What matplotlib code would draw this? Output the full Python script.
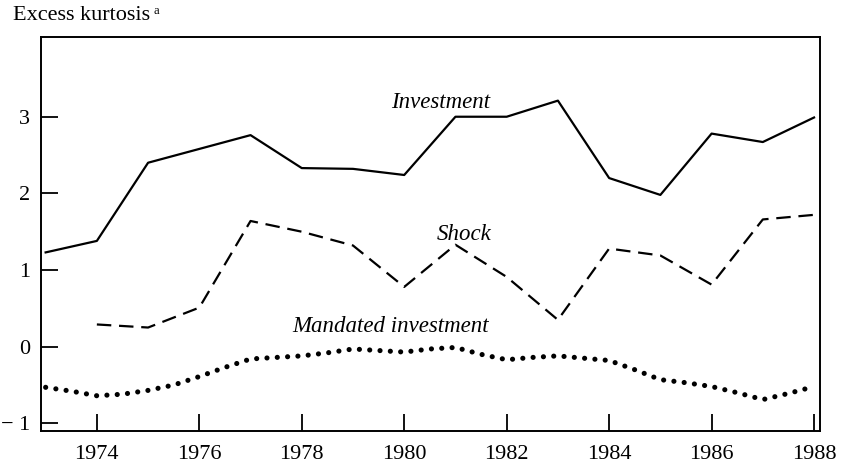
import matplotlib
matplotlib.use("Agg")
import matplotlib.pyplot as plt

plt.rcParams['font.family'] = ['Liberation Serif', 'DejaVu Serif']

# values
years = list(range(1973, 1989))
investment = [1.23, 1.38, 2.40, 2.58, 2.76, 2.33, 2.32, 2.24,
              3.00, 3.00, 3.21, 2.20, 1.98, 2.78, 2.67, 2.99]

shock_years = list(range(1974, 1989))
shock = [0.29, 0.25, 0.51, 1.64, 1.50, 1.32, 0.78, 1.33,
         0.91, 0.35, 1.28, 1.19, 0.81, 1.66, 1.72]

# mandated investment read every half year (smooth dotted curve)
mand_years = [1973 + 0.5 * i for i in range(31)]
mandated = [-0.53, -0.58, -0.64, -0.62, -0.57, -0.50, -0.39, -0.27,
            -0.16, -0.14, -0.12, -0.08, -0.03, -0.05, -0.07, -0.03,
            -0.01, -0.10, -0.17, -0.14, -0.12, -0.15, -0.18, -0.30,
            -0.43, -0.47, -0.52, -0.60, -0.69, -0.61, -0.52]

xticks = [1974, 1976, 1978, 1980, 1982, 1984, 1986, 1988]
yticks = [-1, 0, 1, 2, 3]
yticklab = ['\u2212 1', '0', '1', '2', '3']

fig = plt.figure(figsize=(8.44, 4.65), dpi=100)
ax = fig.add_axes([0.0486, 0.0731, 0.9232, 0.8473])

ax.plot(years, investment, color='black', lw=1.6)
ax.plot(shock_years, shock, color='black', lw=1.6, linestyle=(0, (6.5, 3.5)))
ax.plot(mand_years, mandated, color='black', lw=3.7,
        linestyle=(0, (0.01, 2.0)), dash_capstyle='round')

ax.set_xlim(1972.91, 1988.12)
ax.set_ylim(-1.1, 4.04)
ax.set_xticks(xticks)
ax.set_yticks(yticks)
ax.set_yticklabels(yticklab)
ax.tick_params(direction='in', length=12, width=1.3, labelsize=16)
ax.tick_params(axis='x', pad=10)
ax.tick_params(axis='y', pad=8)
for s in ax.spines.values():
    s.set_linewidth(1.4)

lab = dict(fontsize=16.5, style='italic', ha='center', va='center')
ax.text(1980.71, 3.18, 'Investment', **lab)
ax.text(1981.16, 1.47, 'Shock', **lab)
ax.text(1979.74, 0.26, 'Mandated investment', **lab)

fig.text(13 / 844, 1 - 16 / 465, 'Excess kurtosis', fontsize=16, va='center', ha='left')
fig.text(153 / 844, 1 - 11 / 465, 'a', fontsize=9, va='center', ha='left')

fig.savefig('out.png', dpi=100)
